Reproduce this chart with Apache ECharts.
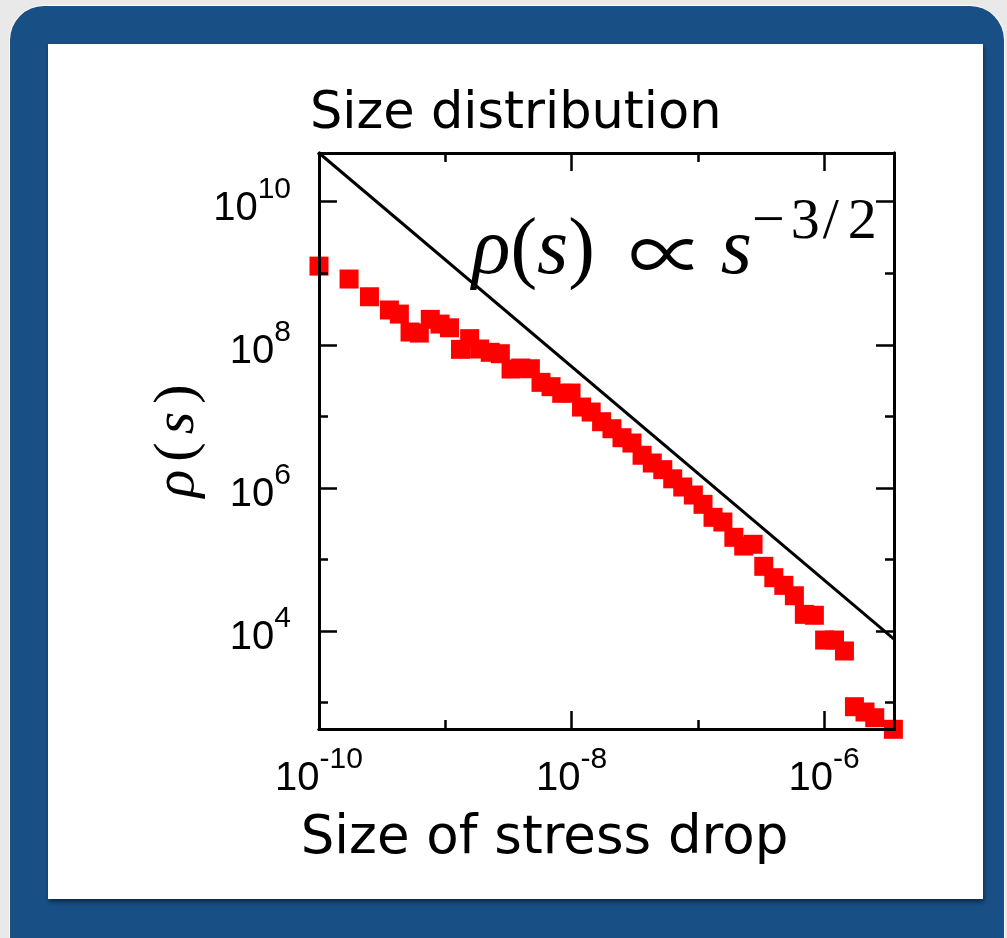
<!DOCTYPE html>
<html>
<head>
<meta charset="utf-8">
<script src="https://cdn.jsdelivr.net/npm/echarts@6/dist/echarts.min.js"></script>
<style>
  html, body { margin: 0; padding: 0; background: #e9e9e9; width: 1007px; height: 938px; overflow: hidden; }
  .frame { position: absolute; left: 10px; top: 6px; width: 994px; height: 980px; background: #184f85; border-radius: 34px; box-shadow: 0 0 0 1px #fafafa; }
  .paper { position: absolute; left: 48px; top: 44px; width: 935px; height: 855px; background: #fff; box-shadow: 1px 3px 4px rgba(0, 0, 0, 0.45); }
  #chart { position: absolute; left: 0; top: 0; width: 1007px; height: 938px; }
</style>
</head>
<body>
<div class="frame"></div>
<div class="paper"></div>
<div id="chart"></div>
<script>
// size of stress drop (bin centres) and measured density rho(s)
const sizeOfDrop = [1.00e-10, 1.73e-10, 2.51e-10, 3.61e-10, 4.33e-10, 5.26e-10, 6.23e-10, 7.61e-10, 9.09e-10,
  1.08e-9, 1.32e-9, 1.56e-9, 1.87e-9, 2.27e-9, 2.73e-9, 3.32e-9, 3.96e-9, 4.72e-9, 5.73e-9, 6.88e-9, 8.36e-9, 9.91e-9,
  1.20e-8, 1.43e-8, 1.73e-8, 2.09e-8, 2.51e-8, 3.01e-8, 3.62e-8, 4.36e-8, 5.28e-8, 6.33e-8, 7.60e-8, 9.22e-8,
  1.10e-7, 1.32e-7, 1.58e-7, 1.93e-7, 2.31e-7, 2.74e-7, 3.33e-7, 4.00e-7, 4.80e-7, 5.82e-7, 6.98e-7, 8.38e-7,
  1.01e-6, 1.21e-6, 1.45e-6, 1.74e-6, 2.11e-6, 2.52e-6, 3.54e-6];
const density = [1.26e9, 8.31e8, 4.70e8, 3.07e8, 2.69e8, 1.51e8, 1.46e8, 2.27e8, 1.95e8,
  1.73e8, 8.65e7, 1.22e8, 8.74e7, 7.86e7, 7.51e7, 4.59e7, 4.74e7, 4.63e7, 2.99e7, 2.60e7, 2.10e7, 2.12e7,
  1.35e7, 1.15e7, 8.42e6, 6.72e6, 5.03e6, 4.24e6, 2.86e6, 2.23e6, 1.80e6, 1.34e6, 1.03e6, 7.96e5,
  5.90e5, 3.88e5, 3.34e5, 2.04e5, 1.54e5, 1.63e5, 8.02e4, 5.56e4, 4.35e4, 3.11e4, 1.71e4, 1.66e4,
  7.48e3, 7.48e3, 5.26e3, 875, 738, 614, 423];

// guide line rho(s) ~ s^(-3/2), end points
const guideX = [1e-10, 3.58e-6];
const guideY = [4.8e10, 7.7e3];

// axis ranges
const xRange = [1e-10, 3.58e-6];
const yRange = [427, 4.8e10];

const chart = echarts.init(document.getElementById('chart'), null, { renderer: 'canvas' });

const sansFont = '"Liberation Sans", Arial, sans-serif';
const serifFont = '"Liberation Serif", "DejaVu Serif", serif';

// "10^n" labels, only on whole decades
function powLabel(v) {
  const e = Math.log10(v);
  const r = Math.round(e);
  if (Math.abs(e - r) > 1e-6) return '';
  return '{b|10}{s|' + r + '}';
}
const labelRich = {
  b: { fontSize: 40, fontFamily: sansFont, color: '#000', lineHeight: 54, verticalAlign: 'bottom' },
  s: { fontSize: 30, fontFamily: sansFont, color: '#000', lineHeight: 30, verticalAlign: 'top' }
};

const lineStyle = { color: '#000', width: 3 };

// builds one log axis; base 10 gives the short ticks, base 100 the long (labelled) ones
function logAxis(pos, range, base, opts) {
  return Object.assign({
    type: 'log',
    logBase: base,
    position: pos,
    min: range[0],
    max: range[1],
    z: 5,
    splitLine: { show: false },
    axisLine: { show: true, lineStyle: lineStyle },
    axisTick: { show: true, inside: true, length: base === 10 ? 9 : 18, lineStyle: { color: '#000', width: 2.5 } },
    axisLabel: { show: false }
  }, opts || {});
}

const mathRich = {
  i: { fontFamily: serifFont, fontStyle: 'italic', fontSize: 80, color: '#000', lineHeight: 98, verticalAlign: 'bottom' },
  n: { fontFamily: serifFont, fontSize: 80, color: '#000', lineHeight: 98, verticalAlign: 'bottom' },
  p: { fontFamily: '"Noto Sans CJK JP", serif', fontWeight: 'normal', fontSize: 76, color: '#000', lineHeight: 98, verticalAlign: 'bottom', padding: [10, 16, 0, 34] },
  m: { fontFamily: serifFont, fontSize: 58, color: '#000', lineHeight: 62, verticalAlign: 'top', padding: [0, 6, 0, 0] },
  u: { fontFamily: serifFont, fontSize: 58, color: '#000', lineHeight: 62, verticalAlign: 'top' },
  sl: { fontFamily: serifFont, fontSize: 58, color: '#000', lineHeight: 62, verticalAlign: 'top', padding: [0, 9, 0, 3] }
};

const option = {
  animation: false,
  backgroundColor: 'transparent',
  title: {
    text: 'Size distribution',
    left: 305,
    top: 84,
    textStyle: { fontFamily: '"DejaVu Sans", sans-serif', fontSize: 51, fontWeight: 'normal', color: '#000' }
  },
  grid: { left: 319, top: 153, width: 575, height: 576 },
  xAxis: [
    logAxis('bottom', xRange, 10, {
      name: 'Size of stress drop',
      nameLocation: 'middle',
      nameGap: 84,
      nameTextStyle: { fontFamily: '"DejaVu Sans", sans-serif', fontSize: 53, color: '#000', padding: [0, 124, 0, 0] }
    }),
    logAxis('bottom', xRange, 100, {
      axisLabel: { show: true, margin: 16, formatter: powLabel, rich: labelRich }
    }),
    logAxis('top', xRange, 10),
    logAxis('top', xRange, 100)
  ],
  yAxis: [
    logAxis('left', yRange, 10, {
      name: '{i|ρ}{n|(}{i|s}{n|)}',
      nameLocation: 'middle',
      nameGap: 112,
      nameRotate: 90,
      nameTextStyle: {
        rich: {
          i: { fontFamily: serifFont, fontStyle: 'italic', fontSize: 58, color: '#000', padding: [0, 4, 0, 4] },
          n: { fontFamily: serifFont, fontSize: 58, color: '#000', padding: [0, 4, 0, 4] }
        }
      }
    }),
    logAxis('left', yRange, 100, {
      axisLabel: { show: true, margin: 28, formatter: powLabel, rich: labelRich }
    }),
    logAxis('right', yRange, 10),
    logAxis('right', yRange, 100)
  ],
  graphic: [{
    type: 'text',
    left: 472,
    top: 194,
    z: 10,
    style: {
      text: '{i|ρ}{n|(}{i|s}{n|)}{p|∝}{i|s}{m|−}{u|3}{sl|/}{u|2}',
      rich: mathRich
    }
  }],
  series: [
    {
      name: 'power law',
      type: 'line',
      xAxisIndex: 0,
      yAxisIndex: 0,
      data: guideX.map((x, i) => [x, guideY[i]]),
      showSymbol: false,
      symbol: 'none',
      lineStyle: { color: '#000', width: 3 },
      z: 3
    },
    {
      name: 'rho(s)',
      type: 'scatter',
      xAxisIndex: 0,
      yAxisIndex: 0,
      data: sizeOfDrop.map((x, i) => [x, density[i]]),
      symbol: 'rect',
      symbolSize: 19,
      clip: false,
      itemStyle: { color: '#ff0000', opacity: 1 },
      z: 2
    }
  ]
};
chart.setOption(option);
</script>
</body>
</html>
